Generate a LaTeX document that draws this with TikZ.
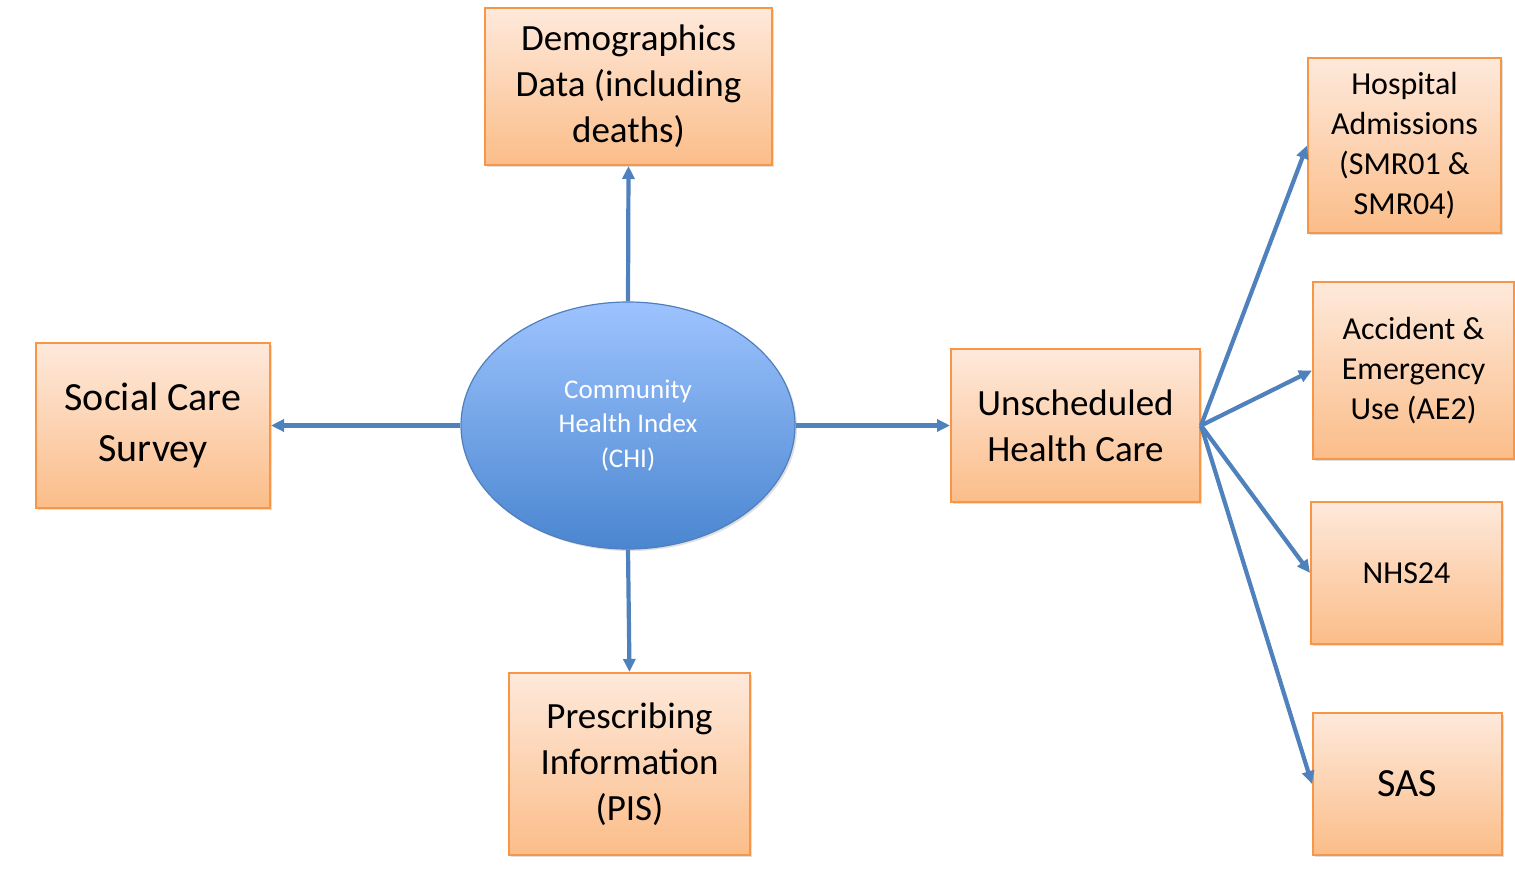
\documentclass[tikz,border=0pt]{standalone}
\usepackage{fontspec}
\setmainfont{Carlito}
\usetikzlibrary{arrows.meta,shapes.geometric,shadows}
\definecolor{boxtop}{HTML}{FEE9DB}
\definecolor{boxbot}{HTML}{FBBD89}
\definecolor{boxline}{HTML}{F79646}
\definecolor{elltop}{HTML}{9DC3FE}
\definecolor{ellbot}{HTML}{4A86D0}
\definecolor{ellline}{HTML}{4F7FBF}
\definecolor{arrowc}{HTML}{4F81BD}
\tikzset{
  databox/.style={rectangle, draw=boxline, line width=2pt, top color=boxtop, bottom color=boxbot,
    align=center, inner sep=0pt, text=black,
    drop shadow={opacity=0.25, shadow xshift=2pt, shadow yshift=-2pt}},
  hub/.style={ellipse, draw=ellline, line width=1.2pt, top color=elltop, bottom color=ellbot,
    align=center, inner sep=0pt, text=white,
    drop shadow={opacity=0.25, shadow xshift=2pt, shadow yshift=-2pt}},
  link/.style={draw=arrowc, line width=4.2pt, -{Triangle[length=13pt,width=12pt]}},
  bigtxt/.style={font=\fontsize{37}{46}\selectfont},
  midtxt/.style={font=\fontsize{32}{40}\selectfont},
}
\begin{document}
\begin{tikzpicture}[x=1pt,y=-1pt]
\useasboundingbox (0,0) rectangle (1515,868);
\fill[white] (0,0) rectangle (1515,868);
\node[hub, minimum width=334pt, minimum height=247pt, font=\fontsize{27}{34.5}\selectfont] (chi) at (628,425.5) {Community\\Health Index\\(CHI)};
\node[databox, bigtxt, minimum width=287pt, minimum height=157pt] (dem) at (628.5,86.5) {Demographics\\Data (including\\deaths)};
\node[databox, font=\fontsize{40}{51}\selectfont, minimum width=234pt, minimum height=165pt] (scs) at (153,425.5) {Social Care\\Survey};
\node[databox, bigtxt, minimum width=249pt, minimum height=153pt] (uhc) at (1075.5,425.5) {Unscheduled\\Health Care};
\node[databox, bigtxt, minimum width=241pt, minimum height=182pt] (pis) at (629.5,764) {Prescribing\\Information\\(PIS)};
\node[databox, midtxt, minimum width=193pt, minimum height=175pt] (hosp) at (1404.5,145.5) {Hospital\\Admissions\\(SMR01 \&\\SMR04)};
\node[databox, midtxt, minimum width=201pt, minimum height=177pt] (ae) at (1413.5,370.5) {Accident \&\\Emergency\\Use (AE2)};
\node[databox, midtxt, minimum width=191pt, minimum height=142pt] (nhs) at (1406.5,573) {NHS24};
\node[databox, font=\fontsize{40}{48}\selectfont, minimum width=189pt, minimum height=142pt] (sas) at (1407.5,784) {SAS};
\draw[link] (chi.north) -- (dem.south);
\draw[link] (chi.west) -- (scs.east);
\draw[link] (chi.east) -- (uhc.west);
\draw[link] (chi.south) -- (pis.north);
\draw[link] (uhc.east) -- (hosp.west);
\draw[link] (uhc.east) -- (ae.west);
\draw[link] (uhc.east) -- (nhs.west);
\draw[link] (uhc.east) -- (sas.west);
\end{tikzpicture}
\end{document}
